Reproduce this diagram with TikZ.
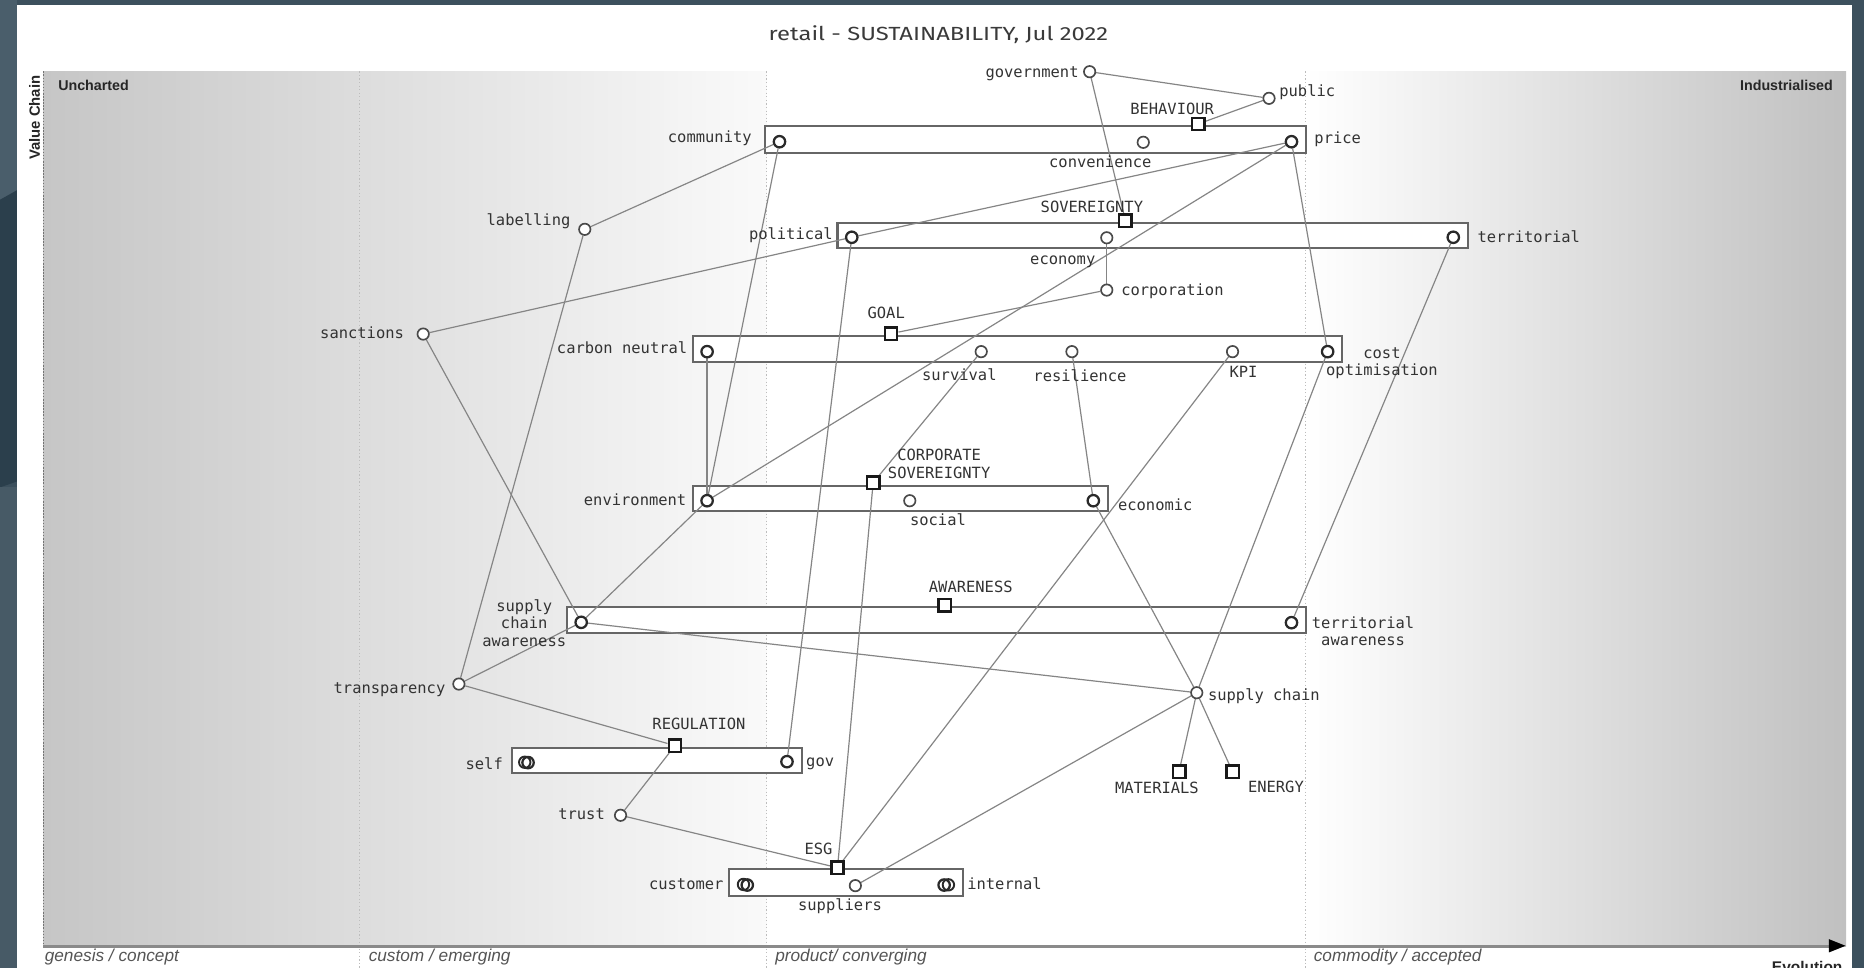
\documentclass[tikz,border=0pt]{standalone}
\usepackage{fontspec}
\newfontfamily\maplabelfont{DejaVu Sans Mono}
\newfontfamily\maptitlefont{Fira Sans}
\newfontfamily\mapaxisfont{Liberation Sans}
\definecolor{framebase}{HTML}{3C505D}
\definecolor{frametop}{HTML}{4A5E6B}
\definecolor{framedark}{HTML}{2B3F4C}
\definecolor{framelow}{HTML}{475A66}
\definecolor{evoleft}{HTML}{C6C6C6}
\definecolor{evoright}{HTML}{C0C0C0}
\definecolor{divcol}{HTML}{BDBDBD}
\definecolor{axiscol}{HTML}{8A8A8A}
\definecolor{linkcol}{HTML}{858585}
\definecolor{pipecol}{HTML}{666666}
\definecolor{compcol}{HTML}{4A4A4A}
\definecolor{endcompcol}{HTML}{2A2A2A}
\definecolor{labelcol}{HTML}{333333}
\definecolor{stagecol}{HTML}{555555}
\definecolor{titlecol}{HTML}{3A3A3A}
\pgfdeclarelayer{backdrop}
\pgfdeclarelayer{pipes}
\pgfdeclarelayer{links}
\pgfsetlayers{backdrop,pipes,links,main}
\begin{document}
\begin{tikzpicture}[x=1pt,y=-1pt,
  comp/.style={circle, draw=compcol, line width=1.4pt, fill=white, minimum size=9.6pt, inner sep=0pt},
  endcomp/.style={comp, draw=endcompcol, line width=1.9pt},
  ghostcomp/.style={comp, fill=none, draw=endcompcol, line width=1.6pt},
  anchorsq/.style={rectangle, draw=black!90, fill=white, line width=2.1pt, minimum size=10.5pt, inner sep=0pt},
  pipebox/.style={rectangle, draw=pipecol, fill=white, line width=1.7pt, inner sep=0pt},
  link/.style={draw=linkcol, line width=1pt},
  lbl/.style={font=\maplabelfont\fontsize{13}{14.8}\selectfont, text=labelcol, inner sep=0pt},
  stagelbl/.style={font=\mapaxisfont\itshape\fontsize{14.5}{16}\selectfont, text=stagecol, inner sep=0pt, anchor=base west},
  cornerlbl/.style={font=\mapaxisfont\bfseries\fontsize{12}{14}\selectfont, text=black!85, inner sep=0pt},
  divider/.style={draw=divcol, line width=1pt, dotted}
]
\useasboundingbox (0,0) rectangle (1568,814);

\begin{pgfonlayer}{backdrop}
  % slate frame around the sheet
  \fill[framebase] (0,0) rectangle (1568,814);
  \fill[frametop] (0,0) rectangle (14.3,168);
  \fill[framedark] (0,168) -- (14.3,160) -- (14.3,405) -- (0,410) -- cycle;
  \fill[framelow] (0,410) rectangle (14.3,814);
  \fill[white] (14.3,4.2) rectangle (1557.6,814);
  % evolution background
  \shade[left color=evoleft, right color=white!98!black] (36.5,60) rectangle (645,796);
  \shade[left color=white, right color=evoright] (1098,60) rectangle (1553,796);
  % stage dividers
  \draw[divider] (302.3,60) -- (302.3,814);
  \draw[divider] (645,60) -- (645,814);
  \draw[divider] (1098,60) -- (1098,814);
  % value chain axis
  \draw[draw=black!55, line width=1.3pt, dash pattern=on 1.3pt off 1.3pt] (36.5,60) -- (36.5,796);
  % evolution axis
  \draw[axiscol, line width=2.2pt] (36.5,796) -- (1540,796);
  \fill[black] (1552.5,795.6) -- (1538.5,790) -- (1538.5,801.2) -- cycle;
\end{pgfonlayer}

% title and axis texts
\node[font=\maptitlefont\fontsize{16}{18}\selectfont, text=titlecol, inner sep=0pt, anchor=base] (title) at (789.4,33.8) {\scalebox{1.25}[1]{retail - SUSTAINABILITY, Jul 2022}};
\node[cornerlbl, anchor=base west] (uncharted) at (48.8,76.5) {Uncharted};
\node[cornerlbl, anchor=base east] (industrialised) at (1542,76.5) {Industrialised};
\node[cornerlbl, font=\mapaxisfont\bfseries\fontsize{12.5}{14}\selectfont, rotate=90] (valuechain) at (29,99) {Value Chain};
\node[cornerlbl, font=\mapaxisfont\bfseries\fontsize{13}{14}\selectfont, anchor=base east] (evolution) at (1550,818) {Evolution};
\node[stagelbl] (genesis) at (37.5,808.8) {genesis / concept};
\node[stagelbl] (custom) at (310,808.8) {custom / emerging};
\node[stagelbl] (product) at (652,808.8) {product/ converging};
\node[stagelbl] (commodity) at (1105,808.8) {commodity / accepted};

% pipelines
\begin{pgfonlayer}{pipes}
  \node[pipebox, minimum width=455.1pt, minimum height=22.4pt] (pipe1) at (871.25,117.2) {};
  \node[pipebox, minimum width=530.4pt, minimum height=21.6pt] (pipe2) at (969.7,198.1) {};
  \node[pipebox, minimum width=545.7pt, minimum height=22.2pt] (pipe3) at (856.05,293.7) {};
  \node[pipebox, minimum width=348.5pt, minimum height=21.1pt] (pipe4) at (757.45,419.05) {};
  \node[pipebox, minimum width=621.9pt, minimum height=21.8pt] (pipe5) at (787.85,521.8) {};
  \node[pipebox, minimum width=243.5pt, minimum height=21.5pt] (pipe6) at (552.75,639.75) {};
  \node[pipebox, minimum width=196.8pt, minimum height=22.1pt] (pipe7) at (712,742.35) {};
\end{pgfonlayer}

% components
\node[comp] (government) at (916.6,60.3) {};
\node[comp] (public) at (1067.5,82.7) {};
\node[endcomp] (community) at (655.7,119.2) {};
\node[comp] (convenience) at (961.7,119.7) {};
\node[endcomp] (price) at (1086.4,119.2) {};
\node[endcomp] (political) at (716.5,199.6) {};
\node[comp] (economy) at (931,200) {};
\node[endcomp] (territorial) at (1222.5,199.6) {};
\node[comp] (corporation) at (931,244) {};
\node[comp] (labelling) at (491.9,192.9) {};
\node[comp] (sanctions) at (356,281) {};
\node[endcomp] (carbon) at (594.8,295.8) {};
\node[comp] (survival) at (825.4,295.8) {};
\node[comp] (resilience) at (901.7,295.8) {};
\node[comp] (kpi) at (1036.8,295.8) {};
\node[endcomp] (costopt) at (1116.8,295.8) {};
\node[endcomp] (environment) at (594.8,421.2) {};
\node[comp] (social) at (765.3,421.2) {};
\node[endcomp] (economic) at (919.7,421.2) {};
\node[endcomp] (scaware) at (488.9,523.5) {};
\node[endcomp] (terraware) at (1086.4,523.8) {};
\node[comp] (transparency) at (386,575.4) {};
\node[comp] (supplychain) at (1006.7,582.7) {};
\node[endcomp] (self) at (444.2,641.5) {};
\node[ghostcomp] (selfb) at (441.4,641.2) {};
\node[endcomp] (gov) at (662,640.7) {};
\node[comp] (trust) at (522,685.8) {};
\node[endcomp] (customer) at (628.6,744.5) {};
\node[ghostcomp] (customerb) at (625.4,744) {};
\node[comp] (suppliers) at (719.5,745) {};
\node[endcomp] (internal) at (794.2,744.5) {};
\node[ghostcomp] (internalb) at (797.8,744.3) {};

% anchors
\node[anchorsq] (behaviour) at (1007.8,104.3) {};
\node[anchorsq] (sovereignty) at (946.7,185.5) {};
\node[anchorsq] (goal) at (749.5,280.6) {};
\node[anchorsq] (corpsov) at (734.5,406) {};
\node[anchorsq] (awareness) at (794.6,509) {};
\node[anchorsq] (regulation) at (567.8,627.2) {};
\node[anchorsq] (materials) at (991.8,649.1) {};
\node[anchorsq] (energy) at (1036.8,649.1) {};
\node[anchorsq] (esg) at (704.5,729.9) {};

% labels
\node[lbl, anchor=base east] (t-government) at (907.5,65.5) {government};
\node[lbl, anchor=base west] (t-public) at (1076,81.5) {public};
\node[lbl, anchor=base] (t-behaviour) at (986,96.5) {BEHAVIOUR};
\node[lbl, anchor=base east] (t-community) at (632.5,120) {community};
\node[lbl, anchor=base] (t-convenience) at (925.6,140.5) {convenience};
\node[lbl, anchor=base west] (t-price) at (1105.5,121) {price};
\node[lbl, anchor=base] (t-sovereignty) at (918.5,178.5) {SOVEREIGNTY};
\node[lbl, anchor=base east] (t-political) at (700.7,201.5) {political};
\node[lbl, anchor=base] (t-economy) at (894,222.5) {economy};
\node[lbl, anchor=base west] (t-territorial) at (1242.8,204) {territorial};
\node[lbl, anchor=base west] (t-corporation) at (943,248.5) {corporation};
\node[lbl, anchor=base] (t-goal) at (745.5,267.5) {GOAL};
\node[lbl, anchor=base east] (t-labelling) at (480,190) {labelling};
\node[lbl, anchor=base east] (t-sanctions) at (340,284.5) {sanctions};
\node[lbl, anchor=base east] (t-carbon) at (578.3,297.5) {carbon neutral};
\node[lbl, anchor=base] (t-survival) at (807,320) {survival};
\node[lbl, anchor=base] (t-resilience) at (908.5,320.5) {resilience};
\node[lbl, anchor=base] (t-kpi) at (1046,317.5) {KPI};
\node[lbl, align=center] (t-costopt) at (1162.5,305.5) {cost\\optimisation};
\node[lbl, align=center] (t-corpsov) at (790,390.2) {CORPORATE\\SOVEREIGNTY};
\node[lbl, anchor=base east] (t-environment) at (577.5,425) {environment};
\node[lbl, anchor=base] (t-social) at (789,442) {social};
\node[lbl, anchor=base west] (t-economic) at (940.3,429.3) {economic};
\node[lbl, anchor=base] (t-awareness) at (816.6,498) {AWARENESS};
\node[lbl, align=center] (t-scaware) at (441,524) {supply\\chain\\awareness};
\node[lbl, align=center] (t-terraware) at (1146.6,531) {territorial\\awareness};
\node[lbl, anchor=base east] (t-transparency) at (374.8,583.5) {transparency};
\node[lbl, anchor=base west] (t-supplychain) at (1016,589) {supply chain};
\node[lbl, anchor=base] (t-regulation) at (588,613.8) {REGULATION};
\node[lbl, anchor=base east] (t-self) at (423.2,647) {self};
\node[lbl, anchor=base west] (t-gov) at (678,644.5) {gov};
\node[lbl, anchor=base] (t-materials) at (973.2,667.6) {MATERIALS};
\node[lbl, anchor=base] (t-energy) at (1073.3,666.3) {ENERGY};
\node[lbl, anchor=base east] (t-trust) at (509,689.2) {trust};
\node[lbl, anchor=base] (t-esg) at (688.5,718.9) {ESG};
\node[lbl, anchor=base east] (t-customer) at (608.8,748.5) {customer};
\node[lbl, anchor=base west] (t-internal) at (813.5,748.5) {internal};
\node[lbl, anchor=base] (t-suppliers) at (706.6,766.3) {suppliers};

\begin{pgfonlayer}{links}
  \draw[link] (government) -- (public);
  \draw[link] (government) -- (sovereignty);
  \draw[link] (behaviour) -- (public);
  \draw[link] (price) -- (political);
  \draw[link] (price) -- (environment);
  \draw[link] (price) -- (costopt);
  \draw[link] (community) -- (labelling);
  \draw[link] (community) -- (environment);
  \draw[link] (political) -- (gov);
  \draw[link] (sanctions) -- (political);
  \draw[link] (sanctions) -- (scaware);
  \draw[link] (labelling) -- (transparency);
  \draw[link] (economy) -- (corporation);
  \draw[link] (corporation) -- (goal);
  \draw[link] (carbon) -- (environment);
  \draw[link] (survival) -- (corpsov);
  \draw[link] (resilience) -- (economic);
  \draw[link] (kpi) -- (esg);
  \draw[link] (costopt) -- (supplychain);
  \draw[link] (territorial) -- (terraware);
  \draw[link] (economic) -- (supplychain);
  \draw[link] (scaware) -- (supplychain);
  \draw[link] (environment) -- (scaware);
  \draw[link] (transparency) -- (scaware);
  \draw[link] (transparency) -- (regulation);
  \draw[link] (regulation) -- (trust);
  \draw[link] (trust) -- (esg);
  \draw[link] (corpsov) -- (esg);
  \draw[link] (suppliers) -- (supplychain);
  \draw[link] (supplychain) -- (materials);
  \draw[link] (supplychain) -- (energy);
\end{pgfonlayer}
\end{tikzpicture}
\end{document}
